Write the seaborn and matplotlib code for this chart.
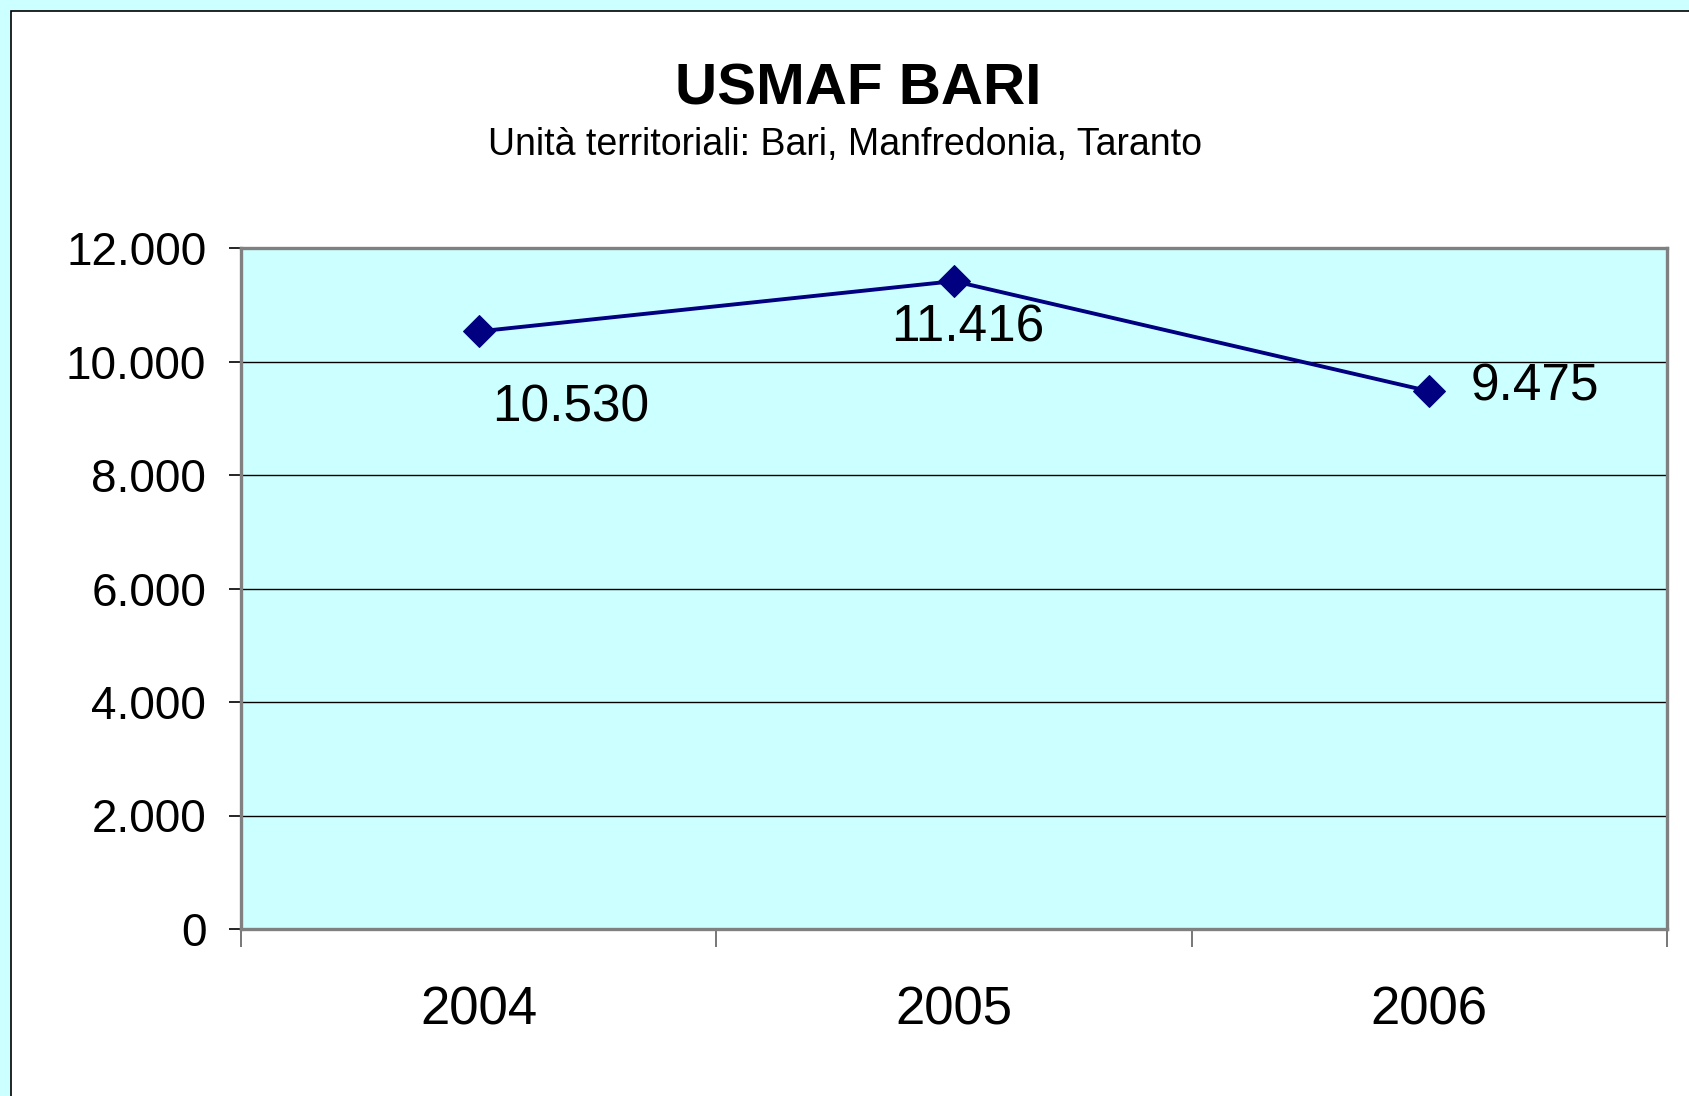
import matplotlib
matplotlib.use("Agg")
import matplotlib.pyplot as plt
import matplotlib.ticker as mticker
from matplotlib.patches import Rectangle
import seaborn as sns
import pandas as pd

# Chart data
years = ["2004", "2005", "2006"]
values = [10530, 11416, 9475]
value_labels = ["10.530", "11.416", "9.475"]
y_ticks = [0, 2000, 4000, 6000, 8000, 10000, 12000]

title = "USMAF BARI"
subtitle = "Unità territoriali: Bari, Manfredonia, Taranto"

df = pd.DataFrame({"pos": range(len(years)), "Anno": years, "Valore": values})

sns.set_style("white")
plt.rcParams["font.family"] = ["Liberation Sans", "DejaVu Sans"]
plt.rcParams["text.color"] = "black"
plt.rcParams["xtick.color"] = "black"
plt.rcParams["ytick.color"] = "black"

fig = plt.figure(figsize=(16.89, 10.96), dpi=100, facecolor="#CCFFFF")

# white chart area with thin black border
bg = Rectangle((11 / 1689, -0.1), 1.0, 1.1 - 11 / 1096,
               transform=fig.transFigure, facecolor="white",
               edgecolor="black", linewidth=1.2, zorder=-5)
fig.patches.append(bg)

ax = fig.add_axes([241 / 1689, 1 - 929 / 1096, (1667 - 241) / 1689, (929 - 248) / 1096])
ax.set_zorder(2)
ax.set_facecolor("#CCFFFF")

sns.lineplot(data=df, x="pos", y="Valore", ax=ax, color="#000080", linewidth=2.8,
             marker="D", markersize=16, markeredgecolor="#000080", zorder=3)

# data labels
offsets = [(66, -55), (10, -34), (76, 3)]
for i, (v, lab) in enumerate(zip(values, value_labels)):
    ax.annotate(lab, (i, v), xytext=offsets[i], textcoords="offset points",
                ha="center", va="center", fontsize=37, color="black")

ax.set_xlim(-0.5, 2.5)
ax.set_ylim(0, 12000)
ax.set_yticks(y_ticks)
ax.yaxis.set_major_formatter(mticker.FuncFormatter(lambda v, p: f"{v:,.0f}".replace(",", ".")))
ax.set_xticks(range(len(years)))
ax.set_xticklabels(years)
ax.set_xticks([-0.5, 0.5, 1.5, 2.5], minor=True)
ax.tick_params(axis="x", which="major", length=0, pad=41, labelsize=38)
ax.tick_params(axis="x", which="minor", length=13, width=1.2, color="#606060",
               direction="out", bottom=True)
ax.tick_params(axis="y", which="major", length=9, width=1.2, color="black", pad=16,
               labelsize=33, left=True)

ax.grid(axis="y", color="black", linewidth=1.0)
ax.set_axisbelow(True)
for s in ax.spines.values():
    s.set_visible(True)
    s.set_color("#808080")
    s.set_linewidth(2.4)

ax.set_xlabel("")
ax.set_ylabel("")

fig.text(0.508, 1 - 89 / 1096, title, ha="center", va="center",
         fontsize=42, fontweight="bold", zorder=3)
fig.text(0.5, 1 - 145 / 1096, subtitle, ha="center", va="center", fontsize=27, zorder=3)

fig.savefig("out.png", dpi=100, facecolor=fig.get_facecolor())
